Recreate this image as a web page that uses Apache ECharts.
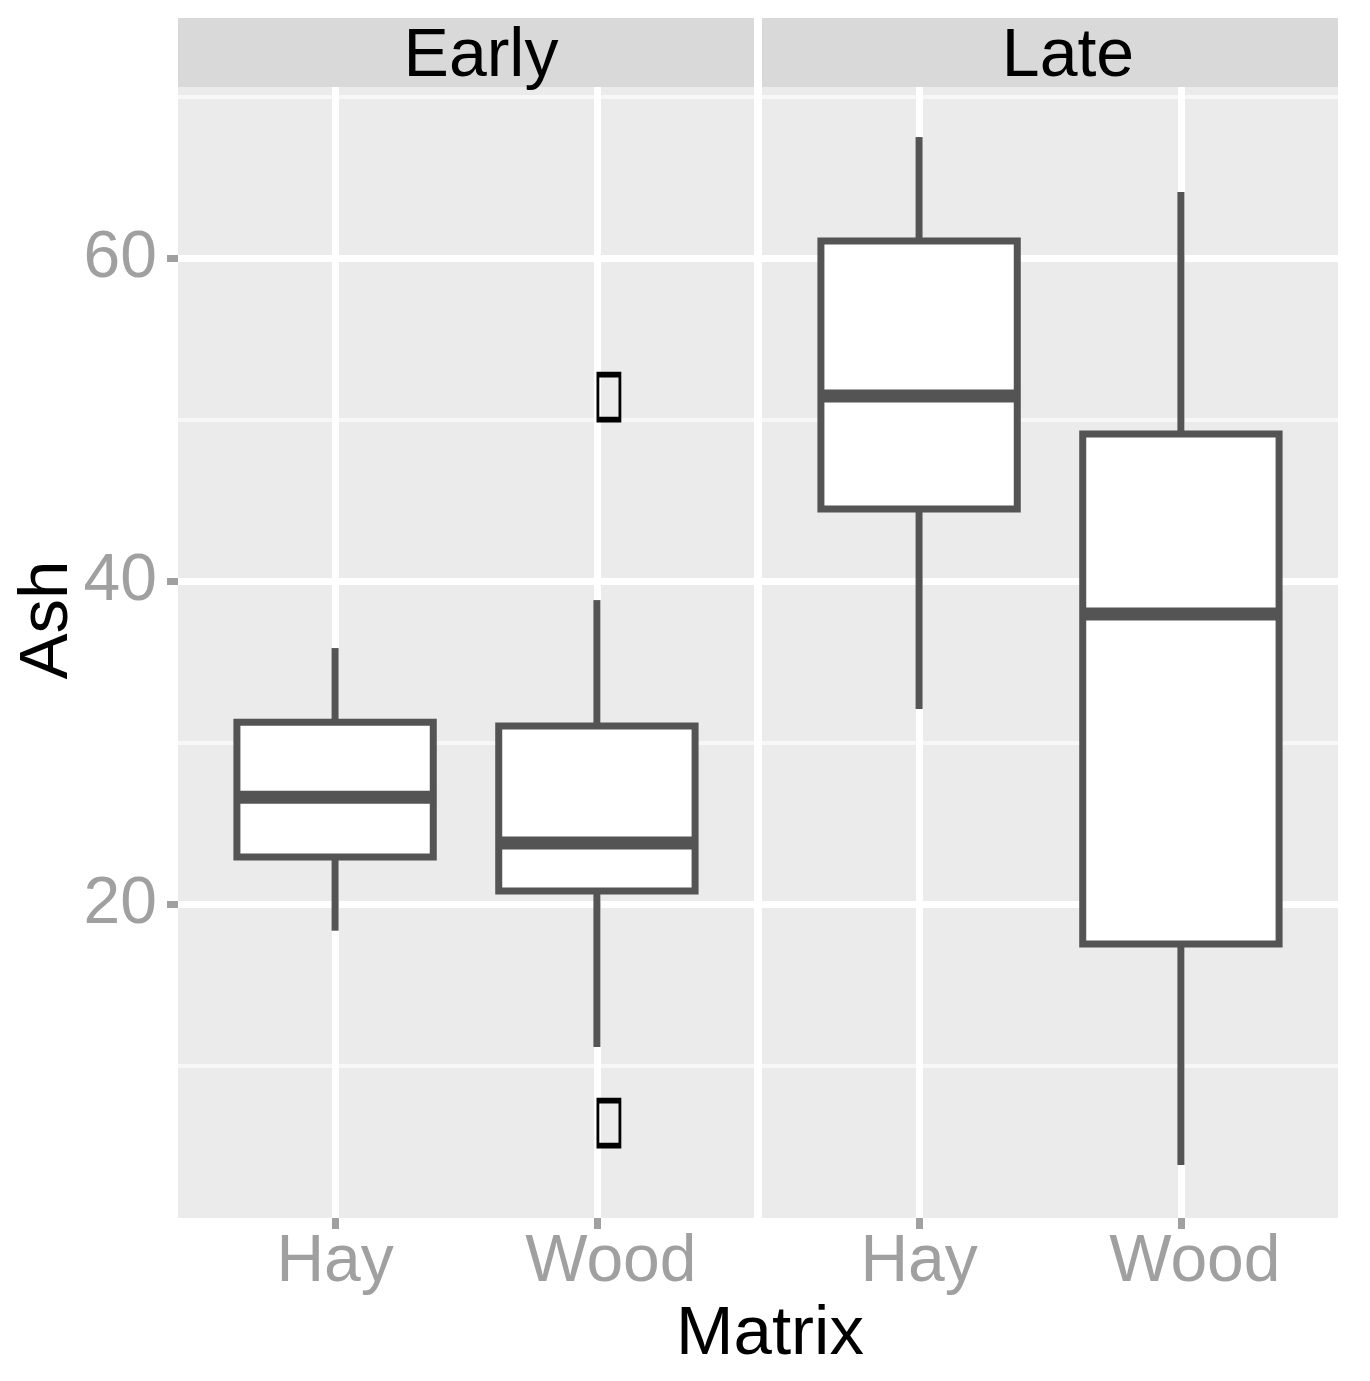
<!DOCTYPE html>
<html>
<head>
<meta charset="utf-8">
<script src="https://cdn.jsdelivr.net/npm/echarts@6/dist/echarts.min.js"></script>
<style>
  html, body { margin: 0; padding: 0; background: #fff; }
  #chart { width: 1370px; height: 1381px; }
</style>
</head>
<body>
<div id="chart"></div>
<script>
// facets and categories
const facets = ['Early', 'Late'];
const matrices = ['Hay', 'Wood'];
// box stats per facet: [lower whisker, Q1, median, Q3, upper whisker], one row per matrix
const earlyStats = [[18.38, 22.94, 26.64, 31.28, 35.88], [11.18, 20.84, 23.81, 31.05, 38.85]];
const lateStats = [[32.1, 44.49, 51.49, 61.08, 67.52], [3.87, 17.55, 37.99, 49.13, 64.12]];
// outliers: [matrix position, Ash]
const earlyOutliers = [[2, 51.42], [2, 6.47]];
const lateOutliers = [];
// tick values
const yMajorTicks = [20, 40, 60];
const yMinorTicks = [10, 30, 50, 70];
const xTicks = [1, 2];

const yMin = 0.59, yMax = 70.62;
const font = '"Liberation Sans", Arial, sans-serif';
const lineColor = '#545454';
const tickGray = '#a0a0a0';

function boxData(stats) {
  return stats.map((s, i) => [i + 1].concat(s));
}

function renderBox(params, api) {
  const x = api.value(0);
  const half = 0.375;
  const lo = api.coord([x, api.value(1)]);
  const q1 = api.coord([x, api.value(2)]);
  const med = api.coord([x, api.value(3)]);
  const q3 = api.coord([x, api.value(4)]);
  const hi = api.coord([x, api.value(5)]);
  const left = api.coord([x - half, 0])[0];
  const right = api.coord([x + half, 0])[0];
  const stroke = {stroke: lineColor, lineWidth: 7, lineCap: 'butt', lineJoin: 'miter'};
  return {
    type: 'group',
    children: [
      {type: 'line', shape: {x1: hi[0], y1: hi[1], x2: q3[0], y2: q3[1]}, style: stroke},
      {type: 'line', shape: {x1: q1[0], y1: q1[1], x2: lo[0], y2: lo[1]}, style: stroke},
      {
        type: 'rect',
        shape: {x: left, y: q3[1], width: right - left, height: q1[1] - q3[1]},
        style: Object.assign({fill: '#ffffff'}, stroke)
      },
      {type: 'line', shape: {x1: left, y1: med[1], x2: right, y2: med[1]},
        style: {stroke: lineColor, lineWidth: 13, lineCap: 'butt'}}
    ]
  };
}

function xAxisFor(gridIndex) {
  return {
    type: 'value', gridIndex: gridIndex, min: 0.4, max: 2.6,
    axisLine: {show: false},
    axisTick: {show: true, customValues: xTicks, length: 11, lineStyle: {color: tickGray, width: 7}},
    axisLabel: {
      customValues: xTicks, margin: 12,
      formatter: v => {
        const name = matrices[Math.round(v) - 1] || '';
        return name === 'Wood' ? '{w|' + name + '}' : '{h|' + name + '}';
      },
      color: tickGray, fontSize: 66, fontFamily: font,
      rich: {
        h: {color: tickGray, fontSize: 66, fontFamily: font},
        w: {color: tickGray, fontSize: 66, fontFamily: font, padding: [0, 0, 0, 28]}
      }
    },
    splitLine: {show: true, lineStyle: {color: '#ffffff', width: 7}}
  };
}

function yMajorFor(gridIndex, showLabels) {
  return {
    type: 'value', gridIndex: gridIndex, min: yMin, max: yMax, position: 'left',
    axisLine: {show: false},
    axisTick: {show: showLabels, customValues: yMajorTicks, length: 11, lineStyle: {color: tickGray, width: 7}},
    axisLabel: {show: showLabels, customValues: yMajorTicks, margin: 21,
      color: tickGray, fontSize: 66, fontFamily: font},
    splitLine: {show: true, lineStyle: {color: '#ffffff', width: 7}}
  };
}

function yMinorFor(gridIndex) {
  return {
    type: 'value', gridIndex: gridIndex, min: yMin, max: yMax, position: 'right',
    axisLine: {show: false},
    axisTick: {show: false, customValues: yMinorTicks},
    axisLabel: {show: false, customValues: yMinorTicks},
    splitLine: {show: true, lineStyle: {color: '#f7f7f7', width: 4}}
  };
}

const chart = echarts.init(document.getElementById('chart'), null, {renderer: 'canvas'});

const outlierStyle = {color: 'rgba(0,0,0,0)', borderColor: '#000000', borderWidth: 4, opacity: 1};

const option = {
  backgroundColor: '#ffffff',
  animation: false,
  grid: [
    {left: 178, top: 87, width: 576, height: 1131, show: true, backgroundColor: '#EBEBEB', borderWidth: 0},
    {left: 762, top: 87, width: 576, height: 1131, show: true, backgroundColor: '#EBEBEB', borderWidth: 0}
  ],
  xAxis: [xAxisFor(0), xAxisFor(1)],
  yAxis: [yMinorFor(0), yMajorFor(0, true), yMinorFor(1), yMajorFor(1, false)],
  series: [
    {type: 'custom', xAxisIndex: 0, yAxisIndex: 1, data: boxData(earlyStats), renderItem: renderBox, z: 3},
    {type: 'custom', xAxisIndex: 1, yAxisIndex: 3, data: boxData(lateStats), renderItem: renderBox, z: 3},
    {
      type: 'scatter', xAxisIndex: 0, yAxisIndex: 1, data: earlyOutliers, z: 4,
      symbol: 'rect', symbolSize: [22, 45], symbolOffset: [12, 0],
      itemStyle: outlierStyle
    },
    {
      type: 'scatter', xAxisIndex: 1, yAxisIndex: 3, data: lateOutliers, z: 4,
      symbol: 'rect', symbolSize: [22, 45], symbolOffset: [12, 0],
      itemStyle: outlierStyle
    }
  ],
  graphic: [
    {type: 'rect', left: 178, top: 18, shape: {width: 576, height: 69}, style: {fill: '#D9D9D9'}},
    {type: 'rect', left: 762, top: 18, shape: {width: 576, height: 69}, style: {fill: '#D9D9D9'}},
    {type: 'text', x: 481, y: 57, style: {text: facets[0], font: '68px ' + font, fill: '#000',
      textAlign: 'center', textVerticalAlign: 'middle'}},
    {type: 'text', x: 1068, y: 57, style: {text: facets[1], font: '68px ' + font, fill: '#000',
      textAlign: 'center', textVerticalAlign: 'middle'}},
    {type: 'text', x: 770, y: 1335, style: {text: 'Matrix', font: '69px ' + font, fill: '#000',
      textAlign: 'center', textVerticalAlign: 'middle'}},
    {type: 'text', x: 48, y: 620, rotation: Math.PI / 2, style: {text: 'Ash', font: '69px ' + font, fill: '#000',
      textAlign: 'center', textVerticalAlign: 'middle'}}
  ]
};

chart.setOption(option);
</script>
</body>
</html>
